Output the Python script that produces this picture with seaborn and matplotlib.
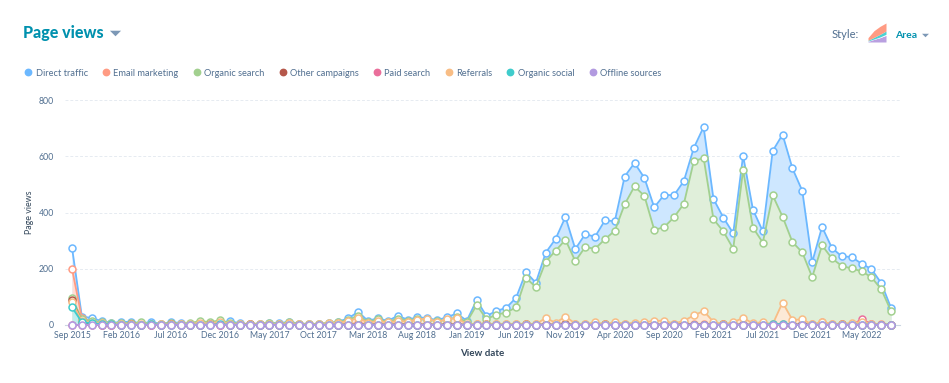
import numpy as np
import pandas as pd
import seaborn as sns
import matplotlib.pyplot as plt
from matplotlib.lines import Line2D

sns.set_theme(style='white')
plt.rcParams['font.family'] = ['Lato', 'DejaVu Sans']

# --- data ---
months = pd.date_range('2015-09-01', periods=84, freq='MS').strftime('%b %Y').tolist()

direct = [275, 30, 25, 14, 8, 10, 12, 6, 10, 5, 9, 8, 5, 12, 7, 6,
          14, 6, 3, 5, 8, 6, 12, 5, 4, 4, 6, 12, 24, 47,
          14, 25, 14, 33, 19, 27, 25, 17, 28, 41, 15, 88, 32, 50, 61, 97,
          188, 150, 257, 306, 384, 270, 323, 314, 372, 369, 528, 576, 523, 418,
          463, 461, 512, 629, 704, 448, 382, 326, 602, 410, 333, 619, 677, 557,
          477, 223, 349, 274, 244, 242, 218, 199, 149, 60]
email = [200, 25, 12, 8, 5, 4, 3, 3, 4, 2, 3, 2, 3, 4, 2, 3,
         4, 2, 2, 3, 3, 3, 2, 2, 3, 2, 2, 3, 4, 6,
         4, 3, 4, 5, 3, 3, 3, 2, 3, 3, 2, 2, 2, 2, 2, 2,
         2, 2, 3, 2, 3, 2, 2, 3, 2, 3, 2, 2, 2, 3,
         2, 2, 3, 4, 3, 2, 2, 3, 2, 2, 2, 3, 3, 2,
         2, 2, 10, 4, 2, 2, 2, 2, 2, 1]
organic = [97, 20, 15, 10, 7, 8, 6, 9, 5, 4, 8, 4, 7, 14, 10, 17,
           8, 5, 3, 5, 7, 5, 9, 4, 3, 4, 8, 10, 18, 33,
           11, 20, 10, 23, 15, 21, 18, 14, 18, 28, 10, 71, 21, 37, 44, 63,
           167, 135, 225, 264, 303, 227, 277, 271, 305, 335, 429, 493, 459, 338,
           348, 383, 431, 582, 594, 376, 333, 271, 551, 346, 293, 461, 385, 295,
           258, 170, 283, 237, 210, 201, 191, 170, 127, 49]
other_campaigns = [90, 12, 2, 1, 1, 1, 2, 1, 1, 1, 2, 1, 1, 1, 2, 1,
                   1, 1, 2, 1, 1, 1, 2, 1, 1, 1, 2, 1, 1, 1,
                   2, 1, 1, 1, 2, 1, 1, 1, 2, 1, 1, 1, 2, 1, 1, 1,
                   2, 1, 1, 1, 2, 1, 1, 1, 2, 1, 1, 1, 2, 1,
                   1, 1, 2, 1, 1, 1, 2, 1, 1, 1, 2, 1, 1, 1,
                   2, 1, 1, 1, 2, 1, 1, 1, 1, 1]
paid_search = [0] * 80 + [20, 4, 0, 0]
referrals = [82, 15, 8, 6, 4, 5, 3, 4, 3, 2, 4, 2, 4, 8, 5, 12,
             4, 3, 2, 4, 5, 3, 6, 3, 3, 3, 6, 8, 14, 25,
             8, 14, 9, 14, 12, 19, 23, 12, 20, 25, 3, 4, 3, 3, 3, 3,
             3, 3, 25, 8, 30, 5, 3, 10, 3, 10, 5, 8, 10, 15,
             15, 5, 15, 34, 50, 11, 3, 10, 25, 6, 10, 3, 80, 18,
             20, 2, 10, 2, 3, 8, 10, 5, 1, 1]
organic_social = [63, 10, 6, 3, 2, 1, 1, 1, 2, 1, 1, 1, 1, 1, 1, 2,
                  1, 1, 1, 1, 1, 1, 1, 1, 1, 1, 1, 1, 1, 1,
                  1, 1, 1, 1, 1, 1, 1, 1, 1, 1, 1, 1, 1, 1, 1, 1,
                  1, 1, 1, 1, 1, 1, 1, 1, 1, 1, 1, 1, 1, 1,
                  1, 1, 1, 1, 1, 1, 1, 1, 1, 1, 1, 3, 3, 1,
                  1, 1, 1, 1, 1, 1, 1, 1, 1, 1]
offline = [0] * 84

series_names = ['Direct traffic', 'Email marketing', 'Organic search', 'Other campaigns',
                'Paid search', 'Referrals', 'Organic social', 'Offline sources']
series_values = [direct, email, organic, other_campaigns, paid_search, referrals,
                 organic_social, offline]
colors = ['#6cb8ff', '#ff9b83', '#a2d08f', '#b5574a', '#ea6f9b', '#f8bd85', '#3fcccc', '#b29ae0']

y_ticks = [0, 200, 400, 600, 800]

# icon next to the style picker
icon_x = [0, 1, 2, 3]
icon_bands = [[2, 8, 13, 20], [1, 1, 2, 3], [2, 5, 8, 10], [8, 20, 24, 24]]
icon_colors = ['#b9a0e0', 'white', '#4ad2d2', '#ff9b83']

teal = '#0091ae'
grey = '#516f90'
dark = '#33475b'
caret = [(-1, 0.5), (1, 0.5), (0, -0.5)]

df = pd.DataFrame({'month': months})
df['pos'] = df.index
for name, values in zip(series_names, series_values):
    df[name] = values
long_df = df.melt(id_vars=['month', 'pos'], var_name='source', value_name='views')

# --- figure, axes placed in pixels of the 949x383 frame ---
W, H = 949, 383
fig = plt.figure(figsize=(W / 100, H / 100), dpi=100, facecolor='white')
ax = fig.add_axes([65 / W, 1 - 325 / H, 835 / W, 225 / H])

for name, color in zip(series_names, colors):
    ax.fill_between(df['pos'], df[name], 0, color='white', lw=0, zorder=1)
    ax.fill_between(df['pos'], df[name], 0, color=color, alpha=0.33, lw=0, zorder=1)

for name, color in zip(series_names, colors):
    sns.lineplot(data=long_df[long_df['source'] == name], x='pos', y='views', ax=ax,
                 color=color, lw=1.3, marker='o', markersize=5, markerfacecolor='white',
                 markeredgecolor=color, markeredgewidth=1.1, clip_on=False, zorder=3,
                 errorbar=None, legend=False)

ax.set_xlim(-0.71, 83.9)
ax.set_ylim(0, 800)
ax.set_yticks(y_ticks)
ax.set_xticks(df['pos'][::5])
ax.set_xticklabels(df['month'][::5])
ax.tick_params(axis='both', length=0, labelsize=6.3, labelcolor=grey)
ax.tick_params(axis='x', pad=4)
ax.tick_params(axis='y', pad=8)
ax.grid(axis='y', color='#e6ebf1', lw=0.7, ls=(0, (3, 2)), zorder=0)
sns.despine(ax=ax, left=True, top=True, right=True)
ax.spines['bottom'].set_color('#cbd6e2')
ax.spines['bottom'].set_linewidth(0.8)
ax.set_xlabel('View date', fontsize=7, fontweight='bold', color=dark, labelpad=7)
ax.set_ylabel('Page views', fontsize=6.4, color=dark, labelpad=3)

# legend row
handles = [Line2D([], [], ls='', marker='o', ms=4.6, color=c) for c in colors]
fig.legend(handles, series_names, loc='center left', bbox_to_anchor=(19 / W, 1 - 73 / H),
           ncol=8, frameon=False, fontsize=6.7, labelcolor=grey, handletextpad=0.3,
           columnspacing=1.45, borderpad=0, handlelength=1)

# header
fig.text(23 / W, 1 - 33 / H, 'Page views', fontsize=11.5, fontweight='black', color=teal,
         va='center')
fig.add_artist(Line2D([115 / W], [1 - 33 / H], ls='', marker=caret, ms=8, color='#7c98b6', mew=0))
fig.text(832 / W, 1 - 35 / H, 'Style:', fontsize=8, color=grey, va='center')
fig.text(895 / W, 1 - 35 / H, 'Area', fontsize=7.5, fontweight='bold', color=teal, va='center')
fig.add_artist(Line2D([925 / W], [1 - 35 / H], ls='', marker=caret, ms=5, color='#7c98b6', mew=0))

icon = fig.add_axes([868 / W, 1 - 42 / H, 18 / W, 19 / H])
icon.stackplot(icon_x, icon_bands, colors=icon_colors, lw=0)
icon.set_xlim(0, 3)
icon.set_ylim(0, 57)
icon.axis('off')

fig.savefig('out.png', dpi=100, facecolor='white')
